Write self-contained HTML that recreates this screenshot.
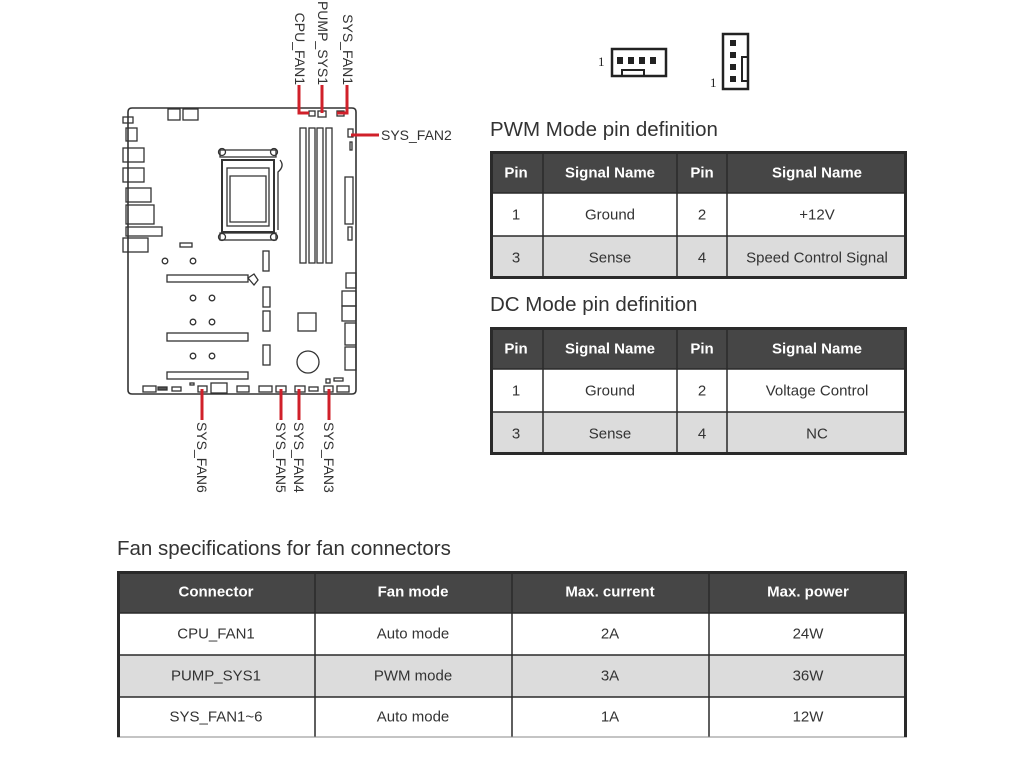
<!DOCTYPE html>
<html><head><meta charset="utf-8"><style>
html,body{margin:0;padding:0;background:#fff;}
svg{display:block;font-family:"Liberation Sans",sans-serif;}
</style></head><body>
<svg width="1024" height="757" viewBox="0 0 1024 757" xmlns="http://www.w3.org/2000/svg">
<rect width="1024" height="757" fill="#fff"/>
<!-- Motherboard -->
<g fill="none" stroke="#333" stroke-width="1.3">
<path d="M132,108 H352 Q356,108 356,112 V390 Q356,394 352,394 H132 Q128,394 128,390 V112 Q128,108 132,108 Z" stroke-width="1.6"/>
<rect x="168" y="109" width="12" height="11"/><rect x="183" y="109" width="15" height="11"/>
<rect x="123" y="117" width="10" height="6"/>
<rect x="126" y="128" width="11" height="13"/>
<rect x="123" y="148" width="21" height="14"/>
<rect x="123" y="168" width="21" height="14"/>
<rect x="126" y="188" width="25" height="14"/>
<rect x="126" y="205" width="28" height="19"/>
<rect x="126" y="227" width="36" height="9"/>
<rect x="123" y="238" width="25" height="14"/>
<rect x="300" y="128" width="6" height="135"/><rect x="309" y="128" width="6" height="135"/>
<rect x="317" y="128" width="6" height="135"/><rect x="326" y="128" width="6" height="135"/>
<rect x="220" y="150" width="56" height="7"/><rect x="220" y="233" width="56" height="7"/>
<rect x="222" y="160" width="52" height="72" stroke-width="2"/>
<rect x="227" y="168" width="42" height="58"/>
<path d="M230,176 H266 V222 H230 Z"/>
<path d="M280,160 Q285,166 278,172 V230"/>
<circle cx="222" cy="152" r="3.5"/><circle cx="274" cy="152" r="3.5"/>
<circle cx="222" cy="237" r="3.5"/><circle cx="274" cy="237" r="3.5"/>
<rect x="348" y="129" width="5" height="8"/><rect x="350" y="142" width="2" height="8"/>
<rect x="345" y="177" width="8" height="47"/><rect x="348" y="227" width="4" height="13"/>
<rect x="180" y="243" width="12" height="4"/>
<circle cx="165" cy="261" r="2.8"/><circle cx="193" cy="261" r="2.8"/>
<rect x="167" y="275" width="81" height="7"/>
<path d="M248,278 L254,274 L258,280 L254,285 Z"/>
<rect x="263" y="251" width="6" height="20"/>
<rect x="263" y="287" width="7" height="20"/><rect x="263" y="311" width="7" height="20"/><rect x="263" y="345" width="7" height="20"/>
<circle cx="193" cy="298" r="2.8"/><circle cx="212" cy="298" r="2.8"/>
<circle cx="193" cy="322" r="2.8"/><circle cx="212" cy="322" r="2.8"/>
<circle cx="193" cy="356" r="2.8"/><circle cx="212" cy="356" r="2.8"/>
<rect x="167" y="333" width="81" height="8"/><rect x="167" y="372" width="81" height="7"/>
<rect x="298" y="313" width="18" height="18"/>
<circle cx="308" cy="362" r="11"/>
<rect x="346" y="273" width="10" height="15"/>
<rect x="342" y="291" width="14" height="15"/><rect x="342" y="306" width="14" height="15"/>
<rect x="345" y="323" width="11" height="22"/><rect x="345" y="347" width="11" height="23"/>
<rect x="143" y="386" width="13" height="6"/><rect x="158" y="387" width="9" height="3" fill="#555"/>
<rect x="172" y="387" width="9" height="4"/><rect x="190" y="383" width="4" height="2"/>
<rect x="198" y="386" width="9" height="6"/><rect x="211" y="383" width="16" height="10"/>
<rect x="237" y="386" width="12" height="6"/><rect x="259" y="386" width="13" height="6"/>
<rect x="276" y="386" width="10" height="6"/><rect x="295" y="386" width="10" height="6"/>
<rect x="309" y="387" width="9" height="4"/><rect x="324" y="386" width="9" height="6"/>
<rect x="337" y="386" width="12" height="6"/>
<rect x="326" y="379" width="4" height="4"/><rect x="334" y="378" width="9" height="3"/>
<rect x="309" y="111" width="6" height="5"/><rect x="318" y="111" width="8" height="6"/><rect x="337" y="111" width="7" height="5"/>
</g>
<!-- red connectors -->
<g stroke="#d0202a" stroke-width="3" fill="none">
<path d="M299,85 V113 H309"/>
<path d="M322,85 V113"/>
<path d="M347,85 V113 H337"/>
<path d="M351,135 H379"/>
<path d="M202,389 V420"/>
<path d="M281,389 V420"/>
<path d="M299,389 V420"/>
<path d="M329,389 V420"/>
</g>
<g font-size="14" fill="#333" dominant-baseline="central">
<text transform="translate(300,85) rotate(90)" text-anchor="end">CPU_FAN1</text>
<text transform="translate(323,85) rotate(90)" text-anchor="end">PUMP_SYS1</text>
<text transform="translate(348,85) rotate(90)" text-anchor="end">SYS_FAN1</text>
<text x="381" y="135">SYS_FAN2</text>
<text transform="translate(202,422) rotate(90)">SYS_FAN6</text>
<text transform="translate(281,422) rotate(90)">SYS_FAN5</text>
<text transform="translate(299,422) rotate(90)">SYS_FAN4</text>
<text transform="translate(329,422) rotate(90)">SYS_FAN3</text>
</g>
<!-- connector icons -->
<g fill="none" stroke="#222" stroke-width="2.5">
<rect x="612" y="49" width="54" height="27"/>
<rect x="622" y="70" width="22" height="6" stroke-width="2"/>
<rect x="723" y="34" width="25" height="55"/>
<rect x="742" y="57" width="6" height="24" stroke-width="2"/>
</g>
<g fill="#222">
<rect x="617" y="57" width="6" height="7"/><rect x="628" y="57" width="6" height="7"/>
<rect x="639" y="57" width="6" height="7"/><rect x="650" y="57" width="6" height="7"/>
<rect x="730" y="40" width="6" height="6"/><rect x="730" y="52" width="6" height="6"/>
<rect x="730" y="64" width="6" height="6"/><rect x="730" y="76" width="6" height="6"/>
</g>
<g font-family="Liberation Serif,serif" font-size="13" fill="#222">
<text x="598" y="66">1</text><text x="710" y="87">1</text>
</g>
<!-- titles -->
<g font-size="20.5" fill="#333">
<text x="490" y="136">PWM Mode pin definition</text>
<text x="490" y="311">DC Mode pin definition</text>
<text x="117" y="555">Fan specifications for fan connectors</text>
</g>
<!-- PWM table -->
<g>
<rect x="490" y="151" width="417" height="42" fill="#464646"/>
<rect x="490" y="193" width="417" height="43" fill="#fff"/>
<rect x="490" y="236" width="417" height="43" fill="#dcdcdc"/>
<g stroke="#2a2a2a" stroke-width="1.5">
<line x1="490" y1="193" x2="907" y2="193"/><line x1="490" y1="236" x2="907" y2="236"/>
<line x1="543" y1="151" x2="543" y2="279"/><line x1="677" y1="151" x2="677" y2="279"/><line x1="727" y1="151" x2="727" y2="279"/>
</g>
<rect x="491.5" y="152.5" width="414" height="125" fill="none" stroke="#2a2a2a" stroke-width="3"/>
<g font-size="15" text-anchor="middle" dominant-baseline="central" fill="#fff" font-weight="bold">
<text x="516" y="173">Pin</text><text x="610" y="173">Signal Name</text><text x="702" y="173">Pin</text><text x="817" y="173">Signal Name</text>
</g>
<g font-size="15" text-anchor="middle" dominant-baseline="central" fill="#333">
<text x="516" y="215">1</text><text x="610" y="215">Ground</text><text x="702" y="215">2</text><text x="817" y="215">+12V</text>
<text x="516" y="258">3</text><text x="610" y="258">Sense</text><text x="702" y="258">4</text><text x="817" y="258">Speed Control Signal</text>
</g>
</g>
<!-- DC table -->
<g>
<rect x="490" y="327" width="417" height="42" fill="#464646"/>
<rect x="490" y="369" width="417" height="43" fill="#fff"/>
<rect x="490" y="412" width="417" height="43" fill="#dcdcdc"/>
<g stroke="#2a2a2a" stroke-width="1.5">
<line x1="490" y1="369" x2="907" y2="369"/><line x1="490" y1="412" x2="907" y2="412"/>
<line x1="543" y1="327" x2="543" y2="455"/><line x1="677" y1="327" x2="677" y2="455"/><line x1="727" y1="327" x2="727" y2="455"/>
</g>
<rect x="491.5" y="328.5" width="414" height="125" fill="none" stroke="#2a2a2a" stroke-width="3"/>
<g font-size="15" text-anchor="middle" dominant-baseline="central" fill="#fff" font-weight="bold">
<text x="516" y="349">Pin</text><text x="610" y="349">Signal Name</text><text x="702" y="349">Pin</text><text x="817" y="349">Signal Name</text>
</g>
<g font-size="15" text-anchor="middle" dominant-baseline="central" fill="#333">
<text x="516" y="391">1</text><text x="610" y="391">Ground</text><text x="702" y="391">2</text><text x="817" y="391">Voltage Control</text>
<text x="516" y="434">3</text><text x="610" y="434">Sense</text><text x="702" y="434">4</text><text x="817" y="434">NC</text>
</g>
</g>
<!-- Fan spec table -->
<g>
<rect x="117" y="571" width="790" height="42" fill="#464646"/>
<rect x="117" y="613" width="790" height="42" fill="#fff"/>
<rect x="117" y="655" width="790" height="42" fill="#dcdcdc"/>
<rect x="117" y="697" width="790" height="40" fill="#fff"/>
<g stroke="#2a2a2a" stroke-width="1.5">
<line x1="117" y1="613" x2="907" y2="613"/><line x1="117" y1="655" x2="907" y2="655"/><line x1="117" y1="697" x2="907" y2="697"/>
<line x1="315" y1="571" x2="315" y2="737"/><line x1="512" y1="571" x2="512" y2="737"/><line x1="709" y1="571" x2="709" y2="737"/>
<line x1="117" y1="737" x2="907" y2="737" stroke="#888" stroke-width="1"/>
</g>
<path d="M118.5,737 V572.5 H905.5 V737" fill="none" stroke="#2a2a2a" stroke-width="3"/>
<g font-size="15" text-anchor="middle" dominant-baseline="central" fill="#fff" font-weight="bold">
<text x="216" y="592">Connector</text><text x="413" y="592">Fan mode</text><text x="610" y="592">Max. current</text><text x="808" y="592">Max. power</text>
</g>
<g font-size="15" text-anchor="middle" dominant-baseline="central" fill="#333">
<text x="216" y="634">CPU_FAN1</text><text x="413" y="634">Auto mode</text><text x="610" y="634">2A</text><text x="808" y="634">24W</text>
<text x="216" y="676">PUMP_SYS1</text><text x="413" y="676">PWM mode</text><text x="610" y="676">3A</text><text x="808" y="676">36W</text>
<text x="216" y="717">SYS_FAN1~6</text><text x="413" y="717">Auto mode</text><text x="610" y="717">1A</text><text x="808" y="717">12W</text>
</g>
</g>
</svg>
</body></html>
